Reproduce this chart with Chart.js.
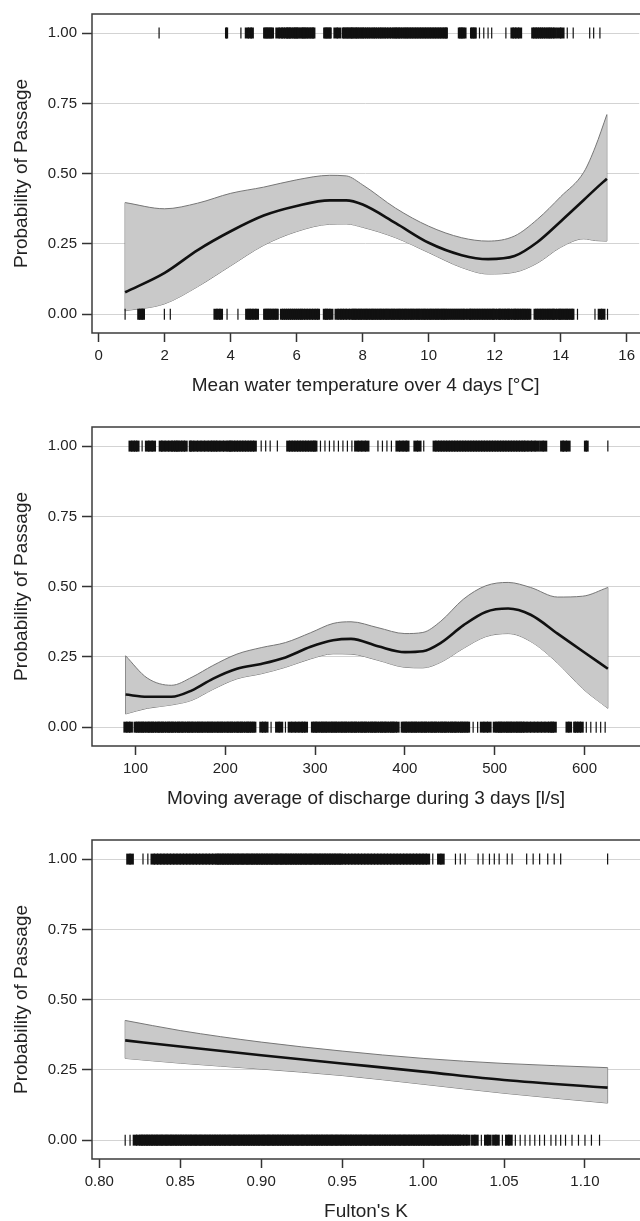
<!DOCTYPE html>
<html>
<head>
<meta charset="utf-8">
<script src="https://cdn.jsdelivr.net/npm/chart.js@4.4.1/dist/chart.umd.min.js"></script>
<style>
  html, body { margin: 0; padding: 0; background: #fff; overflow: hidden; }
  .panel { position: absolute; left: 0; width: 640px; height: 413px; }
</style>
</head>
<body>
<div class="panel" style="top:0"><canvas id="c1" width="640" height="413"></canvas></div>
<div class="panel" style="top:413px"><canvas id="c2" width="640" height="413"></canvas></div>
<div class="panel" style="top:826px"><canvas id="c3" width="640" height="413"></canvas></div>
<script>
// ---- panel 1: mean water temperature ----
const tempX   = [0.8, 2.0, 3.0, 4.0, 5.0, 6.0, 7.0, 7.5, 8.0, 9.0, 10.0, 11.0, 11.8, 12.6, 13.3, 14.0, 14.7, 15.05, 15.4];
const tempFit = [0.078, 0.147, 0.228, 0.295, 0.351, 0.385, 0.405, 0.405, 0.390, 0.324, 0.254, 0.210, 0.196, 0.207, 0.257, 0.330, 0.406, 0.445, 0.482];
const tempHi  = [0.397, 0.375, 0.395, 0.430, 0.452, 0.478, 0.494, 0.492, 0.460, 0.377, 0.313, 0.272, 0.260, 0.278, 0.338, 0.418, 0.505, 0.595, 0.710];
const tempLo  = [0.012, 0.037, 0.098, 0.172, 0.245, 0.294, 0.320, 0.321, 0.309, 0.272, 0.219, 0.166, 0.143, 0.149, 0.182, 0.238, 0.268, 0.262, 0.260];
const tempTicks = [0, 2, 4, 6, 8, 10, 12, 14, 16];
const tempPassed = [1.83, 3.86, 3.89, 4.31, 4.49, 4.58, 4.65, 5.02, 5.06, 5.10, 5.14, 5.18, 5.22, 5.27, 5.42, 5.52, 5.59,
  5.67, 5.71, 5.75, 5.79, 5.83, 5.90, 5.94, 5.98, 6.02, 6.06, 6.14, 6.18, 6.22, 6.26, 6.30, 6.35, 6.40, 6.45, 6.49, 6.53,
  6.84, 6.88, 6.92, 6.96, 7.00, 7.03, 7.18, 7.28, 7.40, 7.44, 7.48, 7.52, 7.56, 7.60, 7.64, 7.68, 7.71, 7.77, 7.81, 7.85,
  7.90, 7.95, 8.00, 8.05, 8.12, 8.18, 8.25, 8.32, 8.38, 8.45, 8.52, 8.58, 8.65, 8.72, 8.80, 8.88, 8.95, 9.00, 9.05, 9.10,
  9.15, 9.22, 9.28, 9.33, 9.38, 9.43, 9.48, 9.53, 9.58, 9.63, 9.68, 9.73, 9.78, 9.83, 9.88, 9.93, 9.98, 10.03, 10.08,
  10.13, 10.18, 10.23, 10.28, 10.33, 10.38, 10.43, 10.48, 10.52, 10.55, 10.92, 10.96, 11.00, 11.04, 11.10, 11.29, 11.33,
  11.38, 11.42, 11.54, 11.67, 11.80, 11.91, 12.34, 12.53, 12.60, 12.68, 12.77, 13.15, 13.20, 13.25, 13.30, 13.36, 13.42,
  13.48, 13.55, 13.62, 13.68, 13.75, 13.83, 13.95, 14.05, 14.20, 14.38, 14.88, 15.00, 15.19];
const tempFailed = [0.80, 1.21, 1.26, 1.31, 1.36, 1.99, 2.17, 3.54, 3.63, 3.71, 3.89, 4.22, 4.49, 4.56, 4.63, 4.72, 4.80,
  5.02, 5.06, 5.10, 5.14, 5.18, 5.23, 5.28, 5.33, 5.38, 5.42, 5.54, 5.60, 5.66, 5.72, 5.78, 5.84, 5.90, 5.96, 6.02, 6.08,
  6.14, 6.20, 6.28, 6.36, 6.44, 6.52, 6.60, 6.66, 6.84, 6.90, 6.96, 7.05, 7.21, 7.30, 7.38, 7.46, 7.55, 7.65,
  7.71, 7.76, 7.80, 7.85, 7.90, 7.94, 7.99, 8.04, 8.09, 8.13, 8.18, 8.23, 8.28, 8.32, 8.37, 8.42, 8.47, 8.52, 8.56, 8.61,
  8.66, 8.71, 8.75, 8.80, 8.85, 8.90, 8.94, 8.99, 9.04, 9.09, 9.13, 9.18, 9.23, 9.28, 9.32, 9.37, 9.42, 9.47, 9.51, 9.56,
  9.61, 9.66, 9.70, 9.75, 9.80, 9.85, 9.89, 9.94, 9.99, 10.04, 10.08, 10.13, 10.18, 10.23, 10.27, 10.32, 10.37, 10.42,
  10.46, 10.51, 10.56, 10.62, 10.68, 10.74, 10.80, 10.86, 10.92, 10.98, 11.04, 11.11,
  11.21, 11.26, 11.31, 11.36, 11.41, 11.46, 11.51, 11.56, 11.61, 11.66, 11.71, 11.76, 11.81, 11.86, 11.91, 11.96, 12.01,
  12.10, 12.15, 12.20, 12.26, 12.31, 12.36, 12.42, 12.47, 12.56, 12.61, 12.66, 12.71, 12.76, 12.82, 12.87, 12.92, 12.97,
  13.02, 13.07, 13.22, 13.27, 13.32, 13.37, 13.42, 13.47, 13.52, 13.58, 13.63, 13.68, 13.73, 13.78, 13.83,
  13.92, 13.97, 14.02, 14.07, 14.13, 14.18, 14.23, 14.29, 14.34, 14.38, 14.51, 15.04, 15.19, 15.29, 15.42];

// ---- panel 2: discharge ----
const flowX   = [89, 113, 140, 163, 186, 213, 240, 267, 295, 320, 340, 370, 400, 420, 440, 465, 490, 515, 540, 570, 598, 626];
const flowFit = [0.116, 0.108, 0.108, 0.131, 0.172, 0.208, 0.225, 0.248, 0.286, 0.309, 0.314, 0.288, 0.267, 0.270, 0.300, 0.362, 0.410, 0.422, 0.400, 0.333, 0.270, 0.208];
const flowHi  = [0.254, 0.175, 0.149, 0.178, 0.219, 0.260, 0.283, 0.301, 0.336, 0.369, 0.375, 0.354, 0.333, 0.337, 0.377, 0.455, 0.503, 0.515, 0.497, 0.463, 0.466, 0.497];
const flowLo  = [0.047, 0.067, 0.079, 0.096, 0.134, 0.172, 0.190, 0.213, 0.243, 0.261, 0.260, 0.238, 0.213, 0.211, 0.231, 0.280, 0.322, 0.333, 0.305, 0.228, 0.137, 0.067];
const flowTicks = [100, 200, 300, 400, 500, 600];
const flowPassed = [94.4, 97.4, 100, 102.6, 107.4, 113, 116.7, 120.4, 128, 131, 135, 139, 142, 145, 147, 150, 153, 156,
  161, 163, 167, 171, 175, 179, 183, 186, 189, 192, 196, 200, 204, 206, 209, 212, 215, 218, 221, 224, 227, 230, 233,
  240, 245, 250, 258, 270, 273, 276, 279, 282, 285, 288, 291, 294, 297, 299, 301, 306, 311, 316, 321, 326, 331, 336,
  341, 346, 350, 354, 358, 370, 375, 380, 385, 392, 396, 400, 403, 412, 416, 421, 433, 436, 439, 442, 445, 448, 451,
  454, 457, 460, 463, 466, 469, 472, 475, 478, 481, 484, 487, 490, 493, 496, 499, 502, 505, 508, 511, 514, 517, 520,
  523, 526, 529, 532, 535, 539, 543, 547, 552, 556, 575, 578, 582, 601, 603, 626];
const flowFailed = [88.8, 92, 95, 99.7, 102, 104, 106, 108, 110, 113, 115, 117, 119, 121, 124, 126, 128, 130, 132, 135,
  137, 139, 141, 143, 146, 148, 150, 152, 154, 157, 159, 161, 163, 165, 168, 170, 172, 174, 176, 179, 181, 183, 185,
  187, 190, 192, 194, 196, 198, 201, 203, 205, 207, 209, 212, 214, 216, 218, 220, 223, 225, 227, 229, 231, 233,
  240, 243, 246, 251, 258, 262, 267, 272, 276, 280, 284, 287, 290,
  297, 299, 301, 303, 306, 308, 310, 312, 314, 317, 319, 321, 323, 325, 328, 330, 332, 334, 336, 339, 341, 343, 345,
  347, 350, 352, 354, 356, 358, 361, 363, 365, 367, 369, 372, 374, 376, 378, 380, 383, 385, 387, 389, 392,
  397, 399, 401, 403, 406, 408, 410, 412, 414, 417, 419, 421, 423, 425, 428, 430, 432, 434, 436, 439, 441, 443, 445,
  447, 450, 452, 454, 456, 458, 461, 463, 465, 467, 469, 471, 476, 481, 486, 490, 494,
  500, 503, 505, 507, 509, 512, 514, 516, 518, 520, 523, 525, 527, 529, 531, 534, 538, 542, 546, 550, 554, 558, 562,
  564, 567, 581, 584, 589, 591, 594, 597, 602, 607, 613, 618, 623];

// ---- panel 3: Fulton's K ----
const kX   = [0.816, 0.85, 0.90, 0.95, 1.00, 1.05, 1.114];
const kFit = [0.355, 0.333, 0.302, 0.273, 0.244, 0.214, 0.187];
const kHi  = [0.426, 0.390, 0.349, 0.317, 0.291, 0.273, 0.258];
const kLo  = [0.291, 0.274, 0.253, 0.230, 0.199, 0.167, 0.132];
const kTicks = [0.80, 0.85, 0.90, 0.95, 1.00, 1.05, 1.10];
const kPassed = [0.818, 0.820, 0.827, 0.830, 0.833, 0.835, 0.837, 0.839, 0.841, 0.843, 0.845, 0.847, 0.849, 0.851,
  0.853, 0.855, 0.857, 0.859, 0.861, 0.863, 0.865, 0.867, 0.869, 0.871,
  0.873, 0.874, 0.876, 0.877, 0.879, 0.880, 0.882, 0.883, 0.885, 0.886, 0.888, 0.889, 0.891, 0.892, 0.894, 0.895,
  0.897, 0.898, 0.900, 0.901, 0.903, 0.904, 0.906, 0.907, 0.909, 0.910, 0.912, 0.913, 0.915, 0.916, 0.918, 0.919,
  0.921, 0.922, 0.924, 0.925, 0.927, 0.928, 0.930, 0.931, 0.933, 0.934, 0.936, 0.937, 0.939, 0.940, 0.942, 0.943,
  0.945, 0.946, 0.948, 0.949, 0.951, 0.953, 0.955, 0.957, 0.959, 0.961, 0.963, 0.965, 0.967, 0.969, 0.971, 0.973,
  0.975, 0.977, 0.979, 0.981, 0.983, 0.985, 0.987, 0.989, 0.991, 0.993, 0.995, 0.997, 0.999, 1.001, 1.003, 1.006,
  1.010, 1.012, 1.020, 1.023, 1.026, 1.034, 1.037, 1.041, 1.044, 1.047, 1.052, 1.055, 1.064, 1.068, 1.072, 1.077,
  1.081, 1.085, 1.114];
const kFailed = [0.816, 0.819, 0.822, 0.824, 0.826, 0.827,
  0.829, 0.830, 0.832, 0.833, 0.835, 0.836, 0.838, 0.839, 0.841, 0.842, 0.844, 0.845, 0.847, 0.848, 0.850, 0.851,
  0.853, 0.854, 0.856, 0.857, 0.859, 0.860, 0.862, 0.863, 0.865, 0.866, 0.868, 0.869, 0.871, 0.872, 0.874, 0.875,
  0.877, 0.878, 0.880, 0.881, 0.883, 0.884, 0.886, 0.887, 0.889, 0.890, 0.892, 0.893, 0.895, 0.896, 0.898, 0.899,
  0.901, 0.902, 0.904, 0.905, 0.907, 0.908, 0.910, 0.911, 0.913, 0.914, 0.916, 0.917, 0.919, 0.920, 0.922, 0.923,
  0.925, 0.926, 0.928, 0.929, 0.931, 0.932, 0.934, 0.935, 0.937, 0.938, 0.940, 0.941, 0.943, 0.944, 0.946, 0.947,
  0.949, 0.950, 0.952, 0.953, 0.955, 0.956, 0.958, 0.959, 0.961, 0.962, 0.964, 0.965, 0.967, 0.968, 0.970, 0.971,
  0.973, 0.974, 0.976, 0.977, 0.979, 0.980, 0.982, 0.983, 0.985, 0.986, 0.988, 0.989, 0.991, 0.992, 0.994, 0.995,
  0.997, 0.998, 1.000, 1.001, 1.003, 1.004, 1.006, 1.007, 1.009, 1.010, 1.012, 1.013, 1.015, 1.016, 1.018, 1.019,
  1.021, 1.022, 1.024, 1.026, 1.028, 1.031, 1.033, 1.036, 1.039, 1.041, 1.044, 1.046, 1.049, 1.052, 1.054, 1.057,
  1.060, 1.063, 1.066, 1.069, 1.072, 1.075, 1.079, 1.082, 1.085, 1.088, 1.092, 1.096, 1.100, 1.104, 1.109];

const probTicks = [0, 0.25, 0.5, 0.75, 1];
const FONT = "'Liberation Sans', Arial, Helvetica, sans-serif";
const INK = '#222';

function xy(xs, ys) { return xs.map((x, i) => ({ x: x, y: ys[i] })); }
function rug(xs, level) { return xs.map(x => ({ x: x, y: level })); }

// rug marks that sit close together get wider so dense runs read as solid black
function rugWidth(ctx) {
  const d = ctx.dataset.data, i = ctx.dataIndex, sx = ctx.chart.scales.x;
  if (!sx || !d[i]) return 1.2;
  const px = sx.getPixelForValue(d[i].x);
  const prev = i > 0 ? px - sx.getPixelForValue(d[i - 1].x) : 99;
  const next = i < d.length - 1 ? sx.getPixelForValue(d[i + 1].x) - px : 99;
  const gap = Math.max(prev, next) < 3.6 ? Math.max(prev, next) : Math.min(prev, next);
  return gap < 3.6 ? Math.min(gap + 1.2, 4.6) : 1.2;
}

// box around the plot area (right side runs off the page)
const boxPlugin = {
  id: 'box',
  afterDatasetsDraw(chart) {
    const a = chart.chartArea, ctx = chart.ctx;
    ctx.save();
    ctx.strokeStyle = '#3c3c3c';
    ctx.lineWidth = 1.5;
    ctx.beginPath();
    ctx.moveTo(a.right + 2, a.top);
    ctx.lineTo(a.left, a.top);
    ctx.lineTo(a.left, a.bottom);
    ctx.lineTo(a.right + 2, a.bottom);
    ctx.stroke();
    ctx.restore();
  }
};

function makePanel(id, p) {
  const curve = { showLine: true, pointRadius: 0, cubicInterpolationMode: 'monotone' };
  const rugStyle = { pointStyle: 'line', pointRotation: 90, pointRadius: 5.5, pointBorderColor: '#111',
                     pointBorderWidth: rugWidth, pointBackgroundColor: '#111' };
  const last = p.x.length - 1;
  new Chart(document.getElementById(id), {
    type: 'scatter',
    data: {
      datasets: [
        { ...curve, data: xy(p.x, p.fit), borderColor: '#111', borderWidth: 2.6 },
        { ...rugStyle, data: rug(p.passed, 1) },
        { ...rugStyle, data: rug(p.failed, 0) },
        { ...curve, data: xy(p.x, p.hi), borderColor: '#767676', borderWidth: 1, fill: '+1', backgroundColor: '#c9c9c9' },
        { ...curve, data: xy(p.x, p.lo), borderColor: '#767676', borderWidth: 1 },
        { showLine: true, pointRadius: 0, borderColor: '#767676', borderWidth: 1,
          data: [{ x: p.x[0], y: p.lo[0] }, { x: p.x[0], y: p.hi[0] }] },
        { showLine: true, pointRadius: 0, borderColor: '#767676', borderWidth: 1,
          data: [{ x: p.x[last], y: p.lo[last] }, { x: p.x[last], y: p.hi[last] }] }
      ]
    },
    options: {
      responsive: false,
      animation: false,
      events: [],
      layout: { padding: { top: 10, left: 0, right: 0, bottom: 0 }, autoPadding: false },
      plugins: { legend: { display: false }, tooltip: { enabled: false } },
      scales: {
        x: {
          type: 'linear', min: p.xmin, max: p.xmax,
          afterFit: s => { s.height = 80; },
          afterBuildTicks: s => { s.ticks = p.ticks.map(v => ({ value: v })); },
          grid: { drawOnChartArea: false, tickColor: '#333', tickLength: 9, tickWidth: 1.5 },
          border: { display: false },
          ticks: { color: INK, font: { family: FONT, size: 15 }, padding: 5, maxRotation: 0, autoSkip: false,
                   callback: v => p.fmt(v) },
          title: { display: true, text: p.title, color: INK, font: { family: FONT, size: 19 },
                   padding: { top: 0, bottom: 16 } }
        },
        y: {
          min: -0.067, max: 1.068,
          afterFit: s => { s.width = 92; },
          afterBuildTicks: s => { s.ticks = probTicks.map(v => ({ value: v })); },
          grid: { color: '#d3d3d3', lineWidth: 1, tickColor: '#333', tickLength: 10, tickWidth: 1.5 },
          border: { display: false },
          ticks: { color: INK, font: { family: FONT, size: 15 }, padding: 5, callback: v => v.toFixed(2) },
          title: { display: true, text: 'Probability of Passage', color: INK, font: { family: FONT, size: 19 },
                   padding: { top: 10, bottom: 0 } }
        }
      }
    },
    plugins: [boxPlugin]
  });
}

makePanel('c1', { x: tempX, fit: tempFit, hi: tempHi, lo: tempLo, passed: tempPassed, failed: tempFailed,
  ticks: tempTicks, xmin: -0.203, xmax: 16.38, fmt: v => String(v),
  title: 'Mean water temperature over 4 days [°C]' });
makePanel('c2', { x: flowX, fit: flowFit, hi: flowHi, lo: flowLo, passed: flowPassed, failed: flowFailed,
  ticks: flowTicks, xmin: 51.6, xmax: 661.8, fmt: v => String(v),
  title: 'Moving average of discharge during 3 days [l/s]' });
makePanel('c3', { x: kX, fit: kFit, hi: kHi, lo: kLo, passed: kPassed, failed: kFailed,
  ticks: kTicks, xmin: 0.7955, xmax: 1.134, fmt: v => v.toFixed(2),
  title: "Fulton's K" });
</script>
</body>
</html>
